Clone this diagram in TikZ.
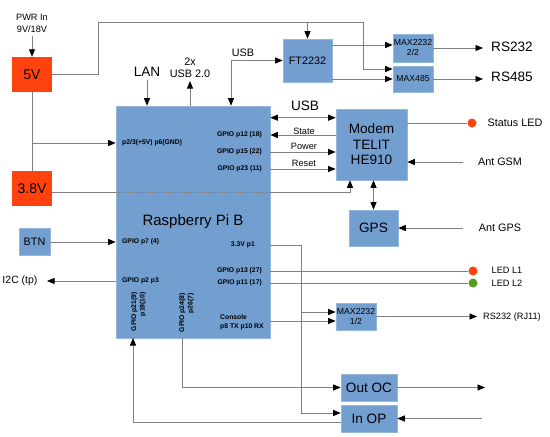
\documentclass[tikz,border=0pt]{standalone}
\usepackage{fontspec}
\setmainfont{Liberation Sans}
\usetikzlibrary{arrows.meta}

\definecolor{blkblue}{HTML}{729FCF}
\definecolor{pwrred}{HTML}{FF420E}
\definecolor{ledgreen}{HTML}{579D1C}
\definecolor{wiregray}{HTML}{808080}

\tikzset{
  blk/.style={fill=blkblue, draw=blkblue!75!white, line width=.6pt, inner sep=0pt, align=center},
  pwr/.style={fill=pwrred, inner sep=0pt, minimum width=40pt, minimum height=35pt, font=\fontsize{14}{16}\selectfont},
  ln/.style={draw=wiregray, line width=.8pt},
  wr/.style={ln, ->},
  dwr/.style={ln, <->},
  pin/.style={font=\bfseries\fontsize{6.8}{8.5}\selectfont, inner sep=0pt},
  big/.style={font=\fontsize{13.6}{15.6}\selectfont},
  mid/.style={font=\fontsize{10.8}{11.5}\selectfont},
  sml/.style={font=\fontsize{9.2}{12}\selectfont},
  chip/.style={font=\fontsize{8.7}{10}\selectfont},
  leddot/.style={circle, inner sep=0pt, minimum size=9pt}
}

\begin{document}
\begin{tikzpicture}[x=1pt,y=-1pt,>={Triangle[length=7.5pt,width=6pt,color=black]}]
\useasboundingbox (0,0) rectangle (550,437);

% supplies and button
\node[sml, align=center] (pwrin) at (32,23) {PWR In\\9V/18V};
\node[pwr] (v5) at (32,74.5) {5V};
\node[pwr] (v38) at (32,188.5) {3.8V};
\node[blk, mid, minimum width=31pt, minimum height=27pt] (btn) at (34.5,241.5) {BTN};

% blocks
\node[blk, font=\fontsize{15}{18}\selectfont, minimum width=154pt, minimum height=232pt] (rpi) at (193,222) {Raspberry Pi B};
\node[blk, mid, minimum width=49pt, minimum height=43pt] (ft) at (307.5,60.5) {FT2232};
\node[blk, chip, minimum width=40pt, minimum height=28pt] (mxa) at (413,48) {MAX2232\\2/2};
\node[blk, chip, minimum width=40pt, minimum height=26pt] (mx485) at (413,79) {MAX485};
\node[blk, big, minimum width=71pt, minimum height=71pt] (modem) at (371.5,144.5) {Modem\\TELIT\\HE910};
\node[blk, big, minimum width=49pt, minimum height=36pt] (gps) at (373.5,228) {GPS};
\node[blk, chip, minimum width=40pt, minimum height=27pt] (mxb) at (356,316.5) {MAX2232\\1/2};
\node[blk, big, minimum width=56pt, minimum height=27pt] (outoc) at (369,387.5) {Out OC};
\node[blk, big, minimum width=56pt, minimum height=27pt] (inop) at (369,418.5) {In OP};

% pins on the board
\foreach \n/\t/\y in {pa/GPIO p12 (18)/135, pb/GPIO p15 (22)/152, pc/GPIO p23 (11)/169,
                      pd/GPIO p13 (27)/271, pe/GPIO p11 (17)/283}
  \node[pin, anchor=east] (\n) at (262,\y) {\t};
\node[pin, anchor=east] (p33) at (255,245) {3.3V p1};
\node[pin, anchor=west] (ppwr) at (122,143) {p2/3(+5V) p6(GND)};
\node[pin, anchor=west] (pbtn) at (122,242) {GPIO p7 (4)};
\node[pin, anchor=west] (pi2c) at (122,281) {GPIO p2 p3};
\node[pin, anchor=west, align=left] (pcon) at (220,322) {Console\\p8 TX p10 RX};
\node[pin, rotate=90, anchor=east, align=right] (p21) at (138.5,292) {GPIO p21(9)\\p19(10)};
\node[pin, rotate=90, anchor=east, align=right] (p24) at (186.5,293) {GPIO p24(8)\\p26(7)};

% outside labels
\node[big] (lan) at (147,72) {LAN};
\node[mid, align=center] (usb2) at (190,68) {2x\\USB 2.0};
\node[mid] (usbf) at (243,53) {USB};
\node[big] (usbm) at (305,106) {USB};
\node[big] (rs232) at (512,47) {RS232};
\node[big] (rs485) at (512,77) {RS485};
\node[mid] (stled) at (515,123) {Status LED};
\node[mid] (antgsm) at (500,162) {Ant GSM};
\node[mid] (antgps) at (500,228) {Ant GPS};
\node[sml] (led1) at (507,270) {LED L1};
\node[sml] (led2) at (507,283) {LED L2};
\node[sml] (rj11) at (512,317) {RS232 (RJ11)};
\node[font=\fontsize{10.5}{12}\selectfont] (i2c) at (20,281) {I2C (tp)};
\node[sml] (lstate) at (304,131) {State};
\node[sml] (lpower) at (304,146) {Power};
\node[sml] (lreset) at (304,163) {Reset};

% leds
\node[leddot, fill=pwrred] (dst) at (472,123) {};
\node[leddot, fill=pwrred] (dl1) at (473,271) {};
\node[leddot, fill=ledgreen] (dl2) at (473,283) {};

% bends and free ends
\coordinate (pwrbend) at (98,22);
\coordinate (busx) at (363,69);
\coordinate (usbbend) at (231,62);
\coordinate (c38) at ([yshift=-4pt]v38.east);
\coordinate (musb) at ([yshift=-9pt]modem.north west);
\coordinate (mxin1) at ([yshift=4.5pt]mxb.west);
\coordinate (mxin2) at ([yshift=-4.5pt]mxb.west);
\coordinate (v33x) at (301,245);
\coordinate (gx21) at (133,338);
\coordinate (gx24) at (182,338);
\coordinate (rsa) at (483,48);
\coordinate (rsb) at (483,79);
\coordinate (gsmend) at (463,162);
\coordinate (gpsend) at (463,228);
\coordinate (rjend) at (477,316.5);
\coordinate (ocend) at (485,387.5);
\coordinate (opend) at (482,418.5);
\coordinate (i2cend) at (47,281);

% power
\draw[wr] (pwrin) -- (v5);
\draw[wr] (v5.east) -| (pwrbend) -| (busx) -- (busx -| mx485.west);
\draw[wr] (ft.north |- pwrbend) -- (ft.north);
\draw[ln] (v5) -- (v38);
\draw[wr] (v5 |- ppwr) -- (rpi.west |- ppwr);
\draw[ln] (c38) -- (rpi.west |- c38);
\draw[ln, densely dotted] (rpi.west |- c38) -- (rpi.east |- c38);
\draw[wr] (rpi.east |- c38) -| ([xshift=-21.5pt]modem.south);

% left side
\draw[wr] (btn.east |- pbtn) -- (rpi.west |- pbtn);
\draw[wr] (rpi.west |- pi2c) -- (i2cend);

% top
\draw[wr] (lan) -- (lan |- rpi.north);
\draw[wr] (usb2 |- rpi.north) -- (usb2);
\draw[dwr] (usbbend |- rpi.north) |- (ft.west);
\draw[wr] ([yshift=15.5pt]ft.east) -- ([yshift=15.5pt]ft.east -| mxa.west);
\draw[wr] (ft.east |- mx485) -- (mx485.west);
\draw[wr] (mxa) -- (rsa);
\draw[wr] (mx485) -- (rsb);

% modem
\draw[dwr] (rpi.east |- musb) -- (musb);
\draw[wr] (modem.west |- pa) -- (rpi.east |- pa);
\draw[wr] (rpi.east |- pb) -- (modem.west |- pb);
\draw[wr] (rpi.east |- pc) -- (modem.west |- pc);
\draw[ln] (modem.east |- dst) -- (dst);
\draw[wr] (gsmend) -- (modem.east |- gsmend);
\draw[dwr] (modem.south -| gps.north) -- (gps.north);
\draw[wr] (gpsend) -- (gps.east);

% lower right
\draw[wr] (rpi.east |- p33) -- (v33x) |- ([yshift=5.5pt]inop.west);
\draw[wr] (mxin1 -| v33x) -- (mxin1);
\draw[wr] (rpi.east |- mxin2) -- (mxin2);
\draw[wr] (mxb) -- (rjend);
\draw[ln] (rpi.east |- pd) -- (dl1);
\draw[ln] (rpi.east |- pe) -- (dl2);

% bottom
\draw[wr] (gx24) |- (outoc.west);
\draw[wr] ([yshift=-3.5pt]inop.west) -| (gx21);
\draw[wr] (outoc.east) -- (ocend);
\draw[wr] (opend) -- (inop.east);
\end{tikzpicture}
\end{document}
